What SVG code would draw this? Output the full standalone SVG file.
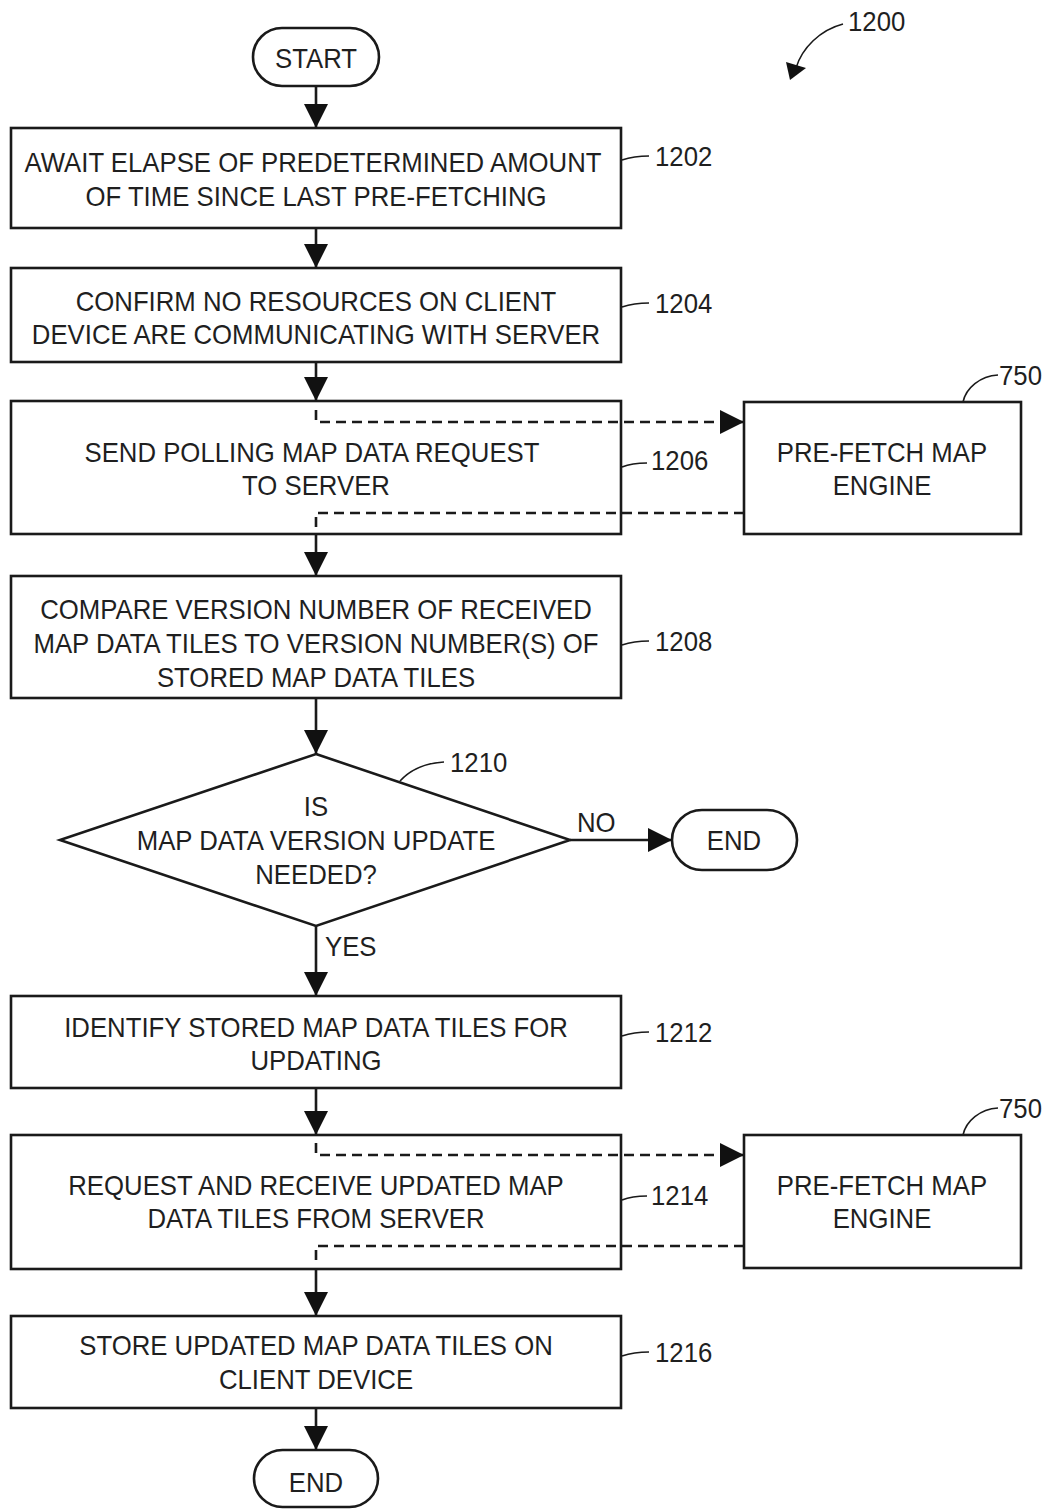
<svg xmlns="http://www.w3.org/2000/svg" width="1048" height="1509" viewBox="0 0 1048 1509">
  <style>
    .box { fill: #fff; stroke: #1a1a1a; stroke-width: 2.6; }
    .open { fill: none; }
    .ln { fill: none; stroke: #1a1a1a; stroke-width: 2.6; }
    .dash { fill: none; stroke: #1a1a1a; stroke-width: 2.6; stroke-dasharray: 10 6; }
    .lead { fill: none; stroke: #1a1a1a; stroke-width: 1.6; }
    text { font-family: "Liberation Sans", Arial, sans-serif; font-size: 28px; fill: #1f1f1f; }
    .c { text-anchor: middle; }
  </style>
  <defs>
    <marker id="arr" markerUnits="userSpaceOnUse" markerWidth="24" markerHeight="24" viewBox="0 0 22 22" refX="22" refY="11" orient="auto">
      <path d="M0,0 L22,11 L0,22 Z" fill="#111"/>
    </marker>
  </defs>

  <rect width="1048" height="1509" fill="#fff"/>

  <!-- figure reference -->
  <g id="ref-1200">
    <path class="lead" d="M843,24 C820,30 802,48 796,68" stroke-width="2"/>
    <path d="M786,62 L806,68 L790,80 Z" fill="#111"/>
    <text transform="translate(848 31) scale(0.92 1)">1200</text>
  </g>

  <g id="start">
    <rect class="box" x="253" y="28" width="126" height="58" rx="29"/>
    <text class="c" transform="translate(316 68) scale(0.92 1)">START</text>
  </g>

  <g id="step-1202">
    <rect class="box" x="11" y="128" width="610" height="100"/>
    <text class="c" transform="translate(313 172) scale(0.92 1)">AWAIT ELAPSE OF PREDETERMINED AMOUNT</text>
    <text class="c" transform="translate(316 206) scale(0.92 1)">OF TIME SINCE LAST PRE-FETCHING</text>
    <path class="lead" d="M622,160 Q634,156 649,156"/>
    <text transform="translate(655 166) scale(0.92 1)">1202</text>
  </g>

  <g id="step-1204">
    <rect class="box" x="11" y="268" width="610" height="94"/>
    <text class="c" transform="translate(316 311) scale(0.92 1)">CONFIRM NO RESOURCES ON CLIENT</text>
    <text class="c" transform="translate(316 344) scale(0.92 1)">DEVICE ARE COMMUNICATING WITH SERVER</text>
    <path class="lead" d="M622,307 Q634,303 649,303"/>
    <text transform="translate(655 313) scale(0.92 1)">1204</text>
  </g>

  <g id="step-1206">
    <rect class="box open" x="11" y="401" width="610" height="133"/>
    <text class="c" transform="translate(312 462) scale(0.92 1)">SEND POLLING MAP DATA REQUEST</text>
    <text class="c" transform="translate(316 495) scale(0.92 1)">TO SERVER</text>
    <path class="lead" d="M622,467 Q632,463 647,463"/>
    <text transform="translate(651 470) scale(0.92 1)">1206</text>
  </g>

  <g id="engine-750-a">
    <rect class="box" x="744" y="402" width="277" height="132"/>
    <text class="c" transform="translate(882 462) scale(0.92 1)">PRE-FETCH MAP</text>
    <text class="c" transform="translate(882 495) scale(0.92 1)">ENGINE</text>
    <path class="lead" d="M963,402 C966,388 980,376 998,375"/>
    <text transform="translate(999 385) scale(0.92 1)">750</text>
  </g>

  <g id="step-1208">
    <rect class="box" x="11" y="576" width="610" height="122"/>
    <text class="c" transform="translate(316 619) scale(0.92 1)">COMPARE VERSION NUMBER OF RECEIVED</text>
    <text class="c" transform="translate(316 653) scale(0.92 1)">MAP DATA TILES TO VERSION NUMBER(S) OF</text>
    <text class="c" transform="translate(316 687) scale(0.92 1)">STORED MAP DATA TILES</text>
    <path class="lead" d="M622,645 Q634,641 649,641"/>
    <text transform="translate(655 651) scale(0.92 1)">1208</text>
  </g>

  <g id="decision-1210">
    <polygon class="box" points="316,754 570,840 316,926 60,840"/>
    <text class="c" transform="translate(316 816) scale(0.92 1)">IS</text>
    <text class="c" transform="translate(316 850) scale(0.92 1)">MAP DATA VERSION UPDATE</text>
    <text class="c" transform="translate(316 884) scale(0.92 1)">NEEDED?</text>
    <path class="lead" d="M400,781 C412,768 426,763 444,762"/>
    <text transform="translate(450 772) scale(0.92 1)">1210</text>
  </g>

  <g id="end-no">
    <rect class="box" x="672" y="810" width="125" height="60" rx="30"/>
    <text class="c" transform="translate(734 850) scale(0.92 1)">END</text>
  </g>

  <g id="step-1212">
    <rect class="box" x="11" y="996" width="610" height="92"/>
    <text class="c" transform="translate(316 1037) scale(0.92 1)">IDENTIFY STORED MAP DATA TILES FOR</text>
    <text class="c" transform="translate(316 1070) scale(0.92 1)">UPDATING</text>
    <path class="lead" d="M622,1036 Q634,1032 649,1032"/>
    <text transform="translate(655 1042) scale(0.92 1)">1212</text>
  </g>

  <g id="step-1214">
    <rect class="box open" x="11" y="1135" width="610" height="134"/>
    <text class="c" transform="translate(316 1195) scale(0.92 1)">REQUEST AND RECEIVE UPDATED MAP</text>
    <text class="c" transform="translate(316 1228) scale(0.92 1)">DATA TILES FROM SERVER</text>
    <path class="lead" d="M622,1200 Q632,1196 647,1196"/>
    <text transform="translate(651 1205) scale(0.92 1)">1214</text>
  </g>

  <g id="engine-750-b">
    <rect class="box" x="744" y="1135" width="277" height="133"/>
    <text class="c" transform="translate(882 1195) scale(0.92 1)">PRE-FETCH MAP</text>
    <text class="c" transform="translate(882 1228) scale(0.92 1)">ENGINE</text>
    <path class="lead" d="M963,1135 C966,1121 980,1109 998,1108"/>
    <text transform="translate(999 1118) scale(0.92 1)">750</text>
  </g>

  <g id="step-1216">
    <rect class="box" x="11" y="1316" width="610" height="92"/>
    <text class="c" transform="translate(316 1355) scale(0.92 1)">STORE UPDATED MAP DATA TILES ON</text>
    <text class="c" transform="translate(316 1389) scale(0.92 1)">CLIENT DEVICE</text>
    <path class="lead" d="M622,1356 Q634,1352 649,1352"/>
    <text transform="translate(655 1362) scale(0.92 1)">1216</text>
  </g>

  <g id="end">
    <rect class="box" x="254" y="1450" width="124" height="57" rx="28.5"/>
    <text class="c" transform="translate(316 1492) scale(0.92 1)">END</text>
  </g>

  <!-- connectors -->
  <g id="connectors">
    <line class="ln" x1="316" y1="86" x2="316" y2="128" marker-end="url(#arr)"/>
    <line class="ln" x1="316" y1="228" x2="316" y2="268" marker-end="url(#arr)"/>
    <line class="ln" x1="316" y1="362" x2="316" y2="401" marker-end="url(#arr)"/>
    <line class="ln" x1="316" y1="534" x2="316" y2="576" marker-end="url(#arr)"/>
    <line class="ln" x1="316" y1="698" x2="316" y2="754" marker-end="url(#arr)"/>
    <line class="ln" x1="316" y1="926" x2="316" y2="996" marker-end="url(#arr)"/>
    <line class="ln" x1="316" y1="1088" x2="316" y2="1135" marker-end="url(#arr)"/>
    <line class="ln" x1="316" y1="1269" x2="316" y2="1316" marker-end="url(#arr)"/>
    <line class="ln" x1="316" y1="1408" x2="316" y2="1450" marker-end="url(#arr)"/>
    <line class="ln" x1="570" y1="840" x2="672" y2="840" marker-end="url(#arr)"/>
    <text transform="translate(577 832) scale(0.92 1)">NO</text>
    <text transform="translate(325 956) scale(0.92 1)">YES</text>

    <!-- exchange with pre-fetch engine (step 1206) -->
    <path class="dash" d="M316,410 V422 H744" marker-end="url(#arr)"/>
    <path class="dash" d="M744,513 H316 V530"/>
    <!-- exchange with pre-fetch engine (step 1214) -->
    <path class="dash" d="M316,1143 V1155 H744" marker-end="url(#arr)"/>
    <path class="dash" d="M744,1246 H316 V1264"/>
  </g>
</svg>
